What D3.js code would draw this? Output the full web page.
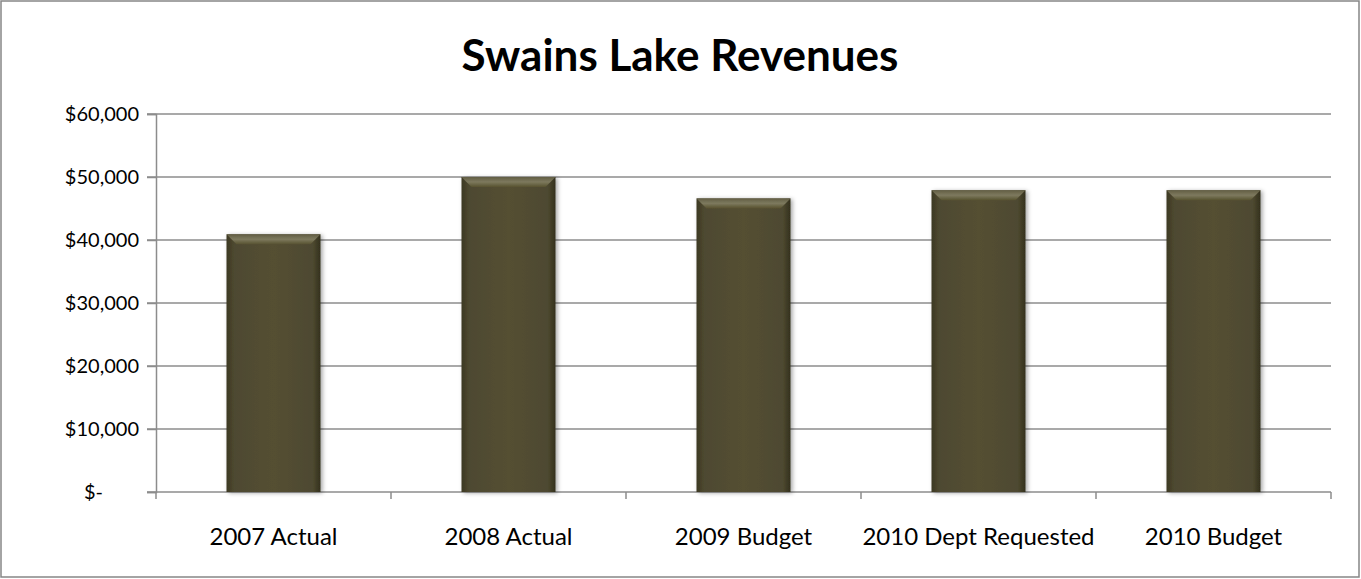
<!DOCTYPE html>
<html>
<head>
<meta charset="utf-8">
<script src="https://d3js.org/d3.v7.min.js"></script>
<style>
  body { margin: 0; background: #fff; }
  text { font-family: Lato, "Open Sans", sans-serif; fill: #000; }
</style>
</head>
<body>
<svg id="chart" width="1361" height="579"></svg>
<script>
// chart data
var categories = ['2007 Actual', '2008 Actual', '2009 Budget', '2010 Dept Requested', '2010 Budget'];
var revenues = [40900, 50000, 46600, 47900, 47900];
var yTicks = [0, 10000, 20000, 30000, 40000, 50000, 60000];

var svg = d3.select('#chart');
var W = 1361, H = 579;
var margin = {top: 114, right: 30, bottom: 87, left: 156};

// outer chart border
svg.append('rect')
  .attr('x', 1).attr('y', 1)
  .attr('width', W - 3).attr('height', H - 3)
  .attr('fill', '#fff').attr('stroke', '#868686').attr('stroke-width', 1.5);

svg.append('text')
  .attr('x', 680).attr('y', 71)
  .attr('text-anchor', 'middle')
  .style('font-size', '44px').style('font-weight', 'bold')
  .text('Swains Lake Revenues');

var x = d3.scaleBand().domain(categories).range([margin.left, W - margin.right]).paddingInner(0.6).paddingOuter(0.3);
var y = d3.scaleLinear().domain([0, 60000]).range([H - margin.bottom, margin.top]);

// gradients for the bevelled bars
var defs = svg.append('defs');
var side = defs.append('linearGradient').attr('id', 'side').attr('x1', 0).attr('x2', 1).attr('y1', 0).attr('y2', 0);
side.append('stop').attr('offset', '0').attr('stop-color', '#3c3823');
side.append('stop').attr('offset', '0.08').attr('stop-color', '#4e4930');
side.append('stop').attr('offset', '0.5').attr('stop-color', '#544f33');
side.append('stop').attr('offset', '0.92').attr('stop-color', '#4e4930');
side.append('stop').attr('offset', '1').attr('stop-color', '#33301d');
var bevel = defs.append('linearGradient').attr('id', 'topbevel').attr('x1', 0).attr('x2', 0).attr('y1', 0).attr('y2', 1);
bevel.append('stop').attr('offset', '0').attr('stop-color', '#625e44');
bevel.append('stop').attr('offset', '0.5').attr('stop-color', '#7d795e');
bevel.append('stop').attr('offset', '1').attr('stop-color', '#57522f');
var shadow = defs.append('filter').attr('id', 'shadow').attr('x', '-10%').attr('y', '-10%').attr('width', '130%').attr('height', '120%');
shadow.append('feDropShadow').attr('dx', 2).attr('dy', 1).attr('stdDeviation', 2).attr('flood-color', '#000').attr('flood-opacity', 0.35);

// gridlines
svg.append('g')
  .selectAll('line').data(yTicks).enter().append('line')
  .attr('x1', margin.left - 9).attr('x2', W - margin.right)
  .attr('y1', function(d) { return y(d); }).attr('y2', function(d) { return y(d); })
  .attr('stroke', '#8c8c8c').attr('stroke-width', 1.5);

// y axis
var yAxis = svg.append('g')
  .attr('transform', 'translate(' + margin.left + ',0)')
  .call(d3.axisLeft(y).tickValues(yTicks).tickSize(9).tickFormat(function(d) {
    return d === 0 ? '$-' : '$' + d3.format(',')(d);
  }));
yAxis.select('.domain').attr('stroke', '#8c8c8c').attr('stroke-width', 1.5);
yAxis.selectAll('.tick line').attr('stroke', '#8c8c8c').attr('stroke-width', 1.5);
yAxis.selectAll('.tick text')
  .style('font-size', '20px')
  .attr('x', -17)
  .filter(function(d) { return d === 0; })
  .attr('text-anchor', 'start').attr('x', -72);

// x axis
var xAxis = svg.append('g')
  .attr('transform', 'translate(0,' + y(0) + ')')
  .call(d3.axisBottom(x).tickSize(0).tickPadding(36));
xAxis.select('.domain').remove();
xAxis.selectAll('.tick text').style('font-size', '24px');
var bounds = d3.range(categories.length + 1).map(function(i) {
  return margin.left + i * (W - margin.right - margin.left) / categories.length;
});
xAxis.selectAll('.sep').data(bounds).enter().append('line')
  .attr('x1', function(d) { return d; }).attr('x2', function(d) { return d; })
  .attr('y1', 0).attr('y2', 7)
  .attr('stroke', '#8c8c8c').attr('stroke-width', 1.5);

// bars
var bars = svg.append('g').selectAll('g').data(revenues).enter().append('g')
  .attr('filter', 'url(#shadow)');
bars.append('rect')
  .attr('x', function(d, i) { return x(categories[i]); })
  .attr('y', function(d) { return y(d); })
  .attr('width', x.bandwidth())
  .attr('height', function(d) { return y(0) - y(d); })
  .attr('fill', 'url(#side)');
bars.append('path')
  .attr('d', function(d, i) {
    var x0 = x(categories[i]), x1 = x0 + x.bandwidth(), t = y(d), b = 10;
    return 'M' + x0 + ',' + t + 'L' + x1 + ',' + t + 'L' + (x1 - b) + ',' + (t + b) + 'L' + (x0 + b) + ',' + (t + b) + 'Z';
  })
  .attr('fill', 'url(#topbevel)');
</script>
</body>
</html>
